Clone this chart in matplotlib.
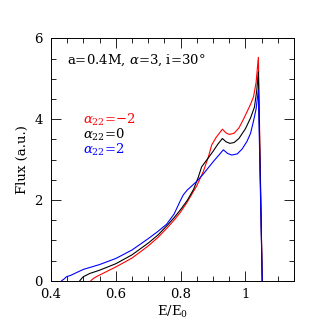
import matplotlib
matplotlib.use("Agg")
import matplotlib.pyplot as plt
from matplotlib.ticker import MultipleLocator

plt.rcParams.update({
    "font.family": "DejaVu Serif", "mathtext.fontset": "dejavuserif",
    "font.size": 9.5,
})

# E/E0 and flux for alpha22 = -2, 0, 2
red_x = [0.523, 0.53, 0.54, 0.56, 0.60, 0.65, 0.70, 0.73, 0.76, 0.78, 0.80, 0.82,
         0.85, 0.87, 0.886, 0.896, 0.91, 0.929, 0.940, 0.950, 0.965, 0.98, 0.993,
         1.005, 1.015, 1.025, 1.033, 1.040, 1.052]
red_y = [0.0, 0.05, 0.10, 0.18, 0.34, 0.56, 0.86, 1.07, 1.32, 1.50, 1.70, 1.94,
         2.35, 2.70, 3.07, 3.36, 3.55, 3.75, 3.66, 3.62, 3.65, 3.78, 3.98,
         4.18, 4.35, 4.55, 4.90, 5.53, 0.0]

blk_x = [0.489, 0.495, 0.50, 0.52, 0.55, 0.60, 0.65, 0.70, 0.73, 0.76, 0.78, 0.80,
         0.82, 0.84, 0.855, 0.865, 0.88, 0.90, 0.915, 0.929, 0.940, 0.952, 0.965,
         0.98, 1.00, 1.016, 1.028, 1.035, 1.040, 1.052]
blk_y = [0.0, 0.06, 0.10, 0.18, 0.26, 0.42, 0.64, 0.93, 1.13, 1.38, 1.56, 1.76,
         1.98, 2.26, 2.57, 2.82, 2.98, 3.20, 3.38, 3.52, 3.44, 3.40, 3.42,
         3.52, 3.76, 4.03, 4.30, 4.70, 5.17, 0.0]

blu_x = [0.433, 0.440, 0.448, 0.46, 0.50, 0.55, 0.60, 0.65, 0.70, 0.73, 0.757, 0.78,
         0.798, 0.808, 0.82, 0.85, 0.87, 0.90, 0.915, 0.932, 0.945, 0.958, 0.975,
         0.99, 1.005, 1.016, 1.025, 1.033, 1.040, 1.052]
blu_y = [0.0, 0.04, 0.10, 0.13, 0.28, 0.40, 0.55, 0.76, 1.04, 1.22, 1.40, 1.65,
         1.96, 2.12, 2.24, 2.46, 2.64, 2.94, 3.08, 3.24, 3.15, 3.11, 3.14,
         3.26, 3.45, 3.65, 3.95, 4.25, 4.72, 0.0]

labels = [r"$\alpha_{22}$=$-$2", r"$\alpha_{22}$=0", r"$\alpha_{22}$=2"]
colors = ["#ff0000", "#000000", "#0000ff"]

fig = plt.figure(figsize=(3.32, 3.32), dpi=100)
ax = fig.add_axes([0.1536, 0.1545, 0.7319, 0.7301])
for xs, ys, c in [(red_x, red_y, colors[0]), (blk_x, blk_y, colors[1]), (blu_x, blu_y, colors[2])]:
    ax.plot(xs, ys, color=c, lw=0.8)

ax.set_xlim(0.4, 1.15)
ax.set_ylim(0, 6)
ax.xaxis.set_minor_locator(MultipleLocator(0.05))
ax.yaxis.set_major_locator(MultipleLocator(2))
ax.yaxis.set_minor_locator(MultipleLocator(0.5))
ax.set_xticks([0.4, 0.6, 0.8, 1.0])
ax.set_xticklabels(["0.4", "0.6", "0.8", "1"])
ax.tick_params(which="both", direction="in", top=True, right=True, width=0.6)
ax.tick_params(which="major", length=7)
ax.tick_params(which="minor", length=3.5)
ax.tick_params(axis="x", pad=5)
ax.tick_params(axis="y", pad=6)
for s in ax.spines.values():
    s.set_linewidth(0.7)

ax.set_xlabel(r"E/E$_0$", labelpad=2)
ax.set_ylabel("Flux (a.u.)")

ax.text(0.065, 0.91, r"a=0.4M, $\alpha$=3, i=30$\degree$", transform=ax.transAxes,
        va="center", ha="left")
for i, (lab, c) in enumerate(zip(labels, colors)):
    ax.text(0.13, 0.665 - i * 0.062, lab, color=c, transform=ax.transAxes,
            va="center", ha="left")

fig.savefig("out.png", dpi=100)
